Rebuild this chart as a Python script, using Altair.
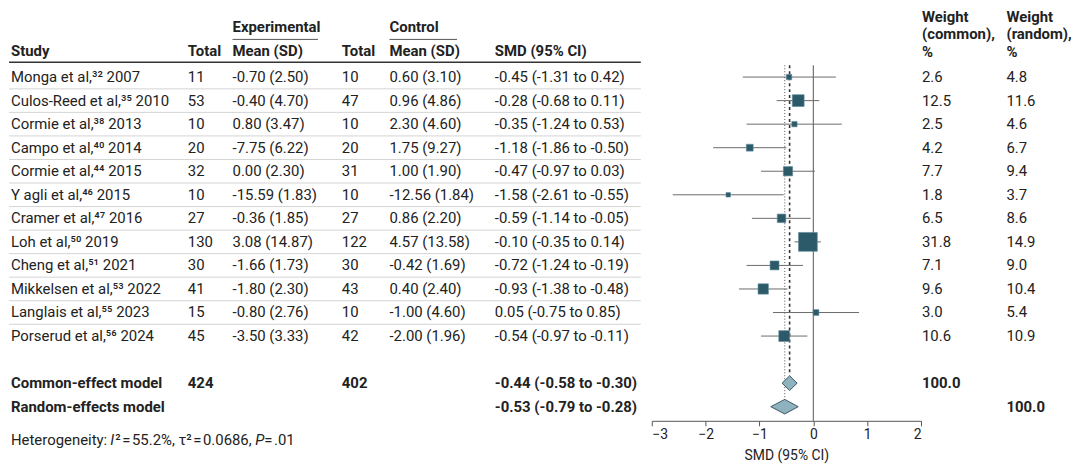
import altair as alt
import pandas as pd

# ---------------- data ----------------
authors = ["Monga et al,", "Culos-Reed et al,", "Cormie et al,", "Campo et al,", "Cormie et al,",
           "Y agli et al,", "Cramer et al,", "Loh et al,", "Cheng et al,", "Mikkelsen et al,",
           "Langlais et al,", "Porserud et al,"]
refs = [32, 35, 38, 40, 44, 46, 47, 50, 51, 53, 55, 56]
years = [2007, 2010, 2013, 2014, 2015, 2015, 2016, 2019, 2021, 2022, 2023, 2024]
exp_n = [11, 53, 10, 20, 32, 10, 27, 130, 30, 41, 15, 45]
exp_mean = [-0.70, -0.40, 0.80, -7.75, 0.00, -15.59, -0.36, 3.08, -1.66, -1.80, -0.80, -3.50]
exp_sd = [2.50, 4.70, 3.47, 6.22, 2.30, 1.83, 1.85, 14.87, 1.73, 2.30, 2.76, 3.33]
ctl_n = [10, 47, 10, 20, 31, 10, 27, 122, 30, 43, 10, 42]
ctl_mean = [0.60, 0.96, 2.30, 1.75, 1.00, -12.56, 0.86, 4.57, -0.42, 0.40, -1.00, -2.00]
ctl_sd = [3.10, 4.86, 4.60, 9.27, 1.90, 1.84, 2.20, 13.58, 1.69, 2.40, 4.60, 1.96]
smd = [-0.45, -0.28, -0.35, -1.18, -0.47, -1.58, -0.59, -0.10, -0.72, -0.93, 0.05, -0.54]
smd_lo = [-1.31, -0.68, -1.24, -1.86, -0.97, -2.61, -1.14, -0.35, -1.24, -1.38, -0.75, -0.97]
smd_hi = [0.42, 0.11, 0.53, -0.50, 0.03, -0.55, -0.05, 0.14, -0.19, -0.48, 0.85, -0.11]
w_common = [2.6, 12.5, 2.5, 4.2, 7.7, 1.8, 6.5, 31.8, 7.1, 9.6, 3.0, 10.6]
w_random = [4.8, 11.6, 4.6, 6.7, 9.4, 3.7, 8.6, 14.9, 9.0, 10.4, 5.4, 10.9]

model_names = ["Common-effect model", "Random-effects model"]
model_est = [-0.44, -0.53]
model_lo = [-0.58, -0.79]
model_hi = [-0.30, -0.28]
model_exp_n = ["424", ""]
model_ctl_n = ["402", ""]
model_w_common = ["100.0", ""]
model_w_random = ["", "100.0"]

het_parts = ["Heterogeneity: ", "I", "²\u200a=\u200a55.2%, τ²\u200a=\u200a0.0686, ", "P", "\u200a=\u200a.01"]

# ---------------- layout ----------------
FONT = "Roboto"
FS = 15
TXT = "#222222"
ROW_PX = 23.7
TOP = -68 / ROW_PX
FOREST_H = 414
TABLE_H = 462
FOREST_W = 271
TABLE_W = 646
RIGHT_W = 147
SEP_W = 636

SUP = str.maketrans("0123456789", "⁰¹²³⁴⁵⁶⁷⁸⁹")


def yscale(h):
    return alt.Scale(domain=[TOP, TOP + h / ROW_PX], reverse=True, nice=False, zero=False)


def fmt(v):
    return f"{v:.2f}"


n = len(authors)
rows = pd.DataFrame({
    "row": list(range(n)),
    "study": [f"{a}{str(r).translate(SUP)} {y}" for a, r, y in zip(authors, refs, years)],
    "en": [str(v) for v in exp_n],
    "em": [f"{fmt(m)} ({fmt(s)})" for m, s in zip(exp_mean, exp_sd)],
    "cn": [str(v) for v in ctl_n],
    "cm": [f"{fmt(m)} ({fmt(s)})" for m, s in zip(ctl_mean, ctl_sd)],
    "smd": [f"{fmt(e)} ({fmt(l)} to {fmt(h)})" for e, l, h in zip(smd, smd_lo, smd_hi)],
    "est": smd, "lo": smd_lo, "hi": smd_hi,
    "wc": [f"{v:.1f}" for v in w_common],
    "wr": [f"{v:.1f}" for v in w_random],
    "w": w_common,
})

models = pd.DataFrame({
    "row": [n + 1, n + 2],
    "study": model_names,
    "en": model_exp_n,
    "cn": model_ctl_n,
    "smd": [f"{fmt(e)} ({fmt(l)} to {fmt(h)})" for e, l, h in zip(model_est, model_lo, model_hi)],
    "wc": model_w_common,
    "wr": model_w_random,
})


def text_layer(df, field, xoff, h, bold=False, italic=False, align="left"):
    return alt.Chart(df).mark_text(
        align=align, baseline="middle", font=FONT, fontSize=FS, color=TXT,
        fontWeight="bold" if bold else "normal", fontStyle="italic" if italic else "normal",
    ).encode(
        x=alt.value(xoff),
        y=alt.Y("row:Q", scale=yscale(h), axis=None),
        text=alt.Text(f"{field}:N"),
    )


# ---------------- table panel ----------------
cols = [("study", 2), ("en", 180), ("em", 225), ("cn", 335), ("cm", 383), ("smd", 489)]
table_layers = []

sep = pd.DataFrame({"row": [i + 0.5 for i in range(n - 1)]})
table_layers.append(
    alt.Chart(sep).mark_rule(color="#d4d4d4", strokeWidth=1).encode(
        x=alt.value(0), x2=alt.value(SEP_W), y=alt.Y("row:Q", scale=yscale(TABLE_H), axis=None))
)
table_layers.append(
    alt.Chart(pd.DataFrame({"row": [-0.63]})).mark_rule(color="#333333", strokeWidth=1.6).encode(
        x=alt.value(0), x2=alt.value(SEP_W), y=alt.Y("row:Q", scale=yscale(TABLE_H), axis=None))
)
for x1, x2 in [(225, 311), (383, 451)]:
    table_layers.append(
        alt.Chart(pd.DataFrame({"row": [-1.6]})).mark_rule(color="#555555", strokeWidth=1).encode(
            x=alt.value(x1), x2=alt.value(x2), y=alt.Y("row:Q", scale=yscale(TABLE_H), axis=None))
    )

hdr = pd.DataFrame({"row": [-1.1], "study": ["Study"], "en": ["Total"], "em": ["Mean (SD)"],
                    "cn": ["Total"], "cm": ["Mean (SD)"], "smd": ["SMD (95% CI)"]})
for f, xo in cols:
    table_layers.append(text_layer(hdr, f, xo, TABLE_H, bold=True))
grp = pd.DataFrame({"row": [-2.11], "em": ["Experimental"], "cm": ["Control"]})
table_layers.append(text_layer(grp, "em", 225, TABLE_H, bold=True))
table_layers.append(text_layer(grp, "cm", 383, TABLE_H, bold=True))

for f, xo in cols:
    table_layers.append(text_layer(rows, f, xo, TABLE_H))
for f, xo in [("study", 2), ("en", 180), ("cn", 335), ("smd", 489)]:
    table_layers.append(text_layer(models, f, xo, TABLE_H, bold=True))

het_row = 15.4
het = pd.DataFrame({"row": [het_row], "a": [het_parts[0]], "b": [het_parts[1]],
                    "c": [het_parts[2]], "d": [het_parts[3]], "e": [het_parts[4]]})
table_layers.append(text_layer(het, "a", 2, TABLE_H))
table_layers.append(text_layer(het, "b", 102, TABLE_H, italic=True))
table_layers.append(text_layer(het, "c", 107, TABLE_H))
table_layers.append(text_layer(het, "d", 248, TABLE_H, italic=True))
table_layers.append(text_layer(het, "e", 257, TABLE_H))

table = alt.layer(*table_layers).properties(width=TABLE_W, height=TABLE_H)

# ---------------- forest panel ----------------
xsc = alt.Scale(domain=[-3, 2], nice=False, zero=False)
xax = alt.Axis(values=[-3, -2, -1, 0, 1, 2], format="d", grid=False, title="SMD (95% CI)",
               domainColor="#555555", tickColor="#555555", tickSize=5, labelPadding=2,
               labelFont=FONT, labelFontSize=14, labelColor=TXT,
               titleFont=FONT, titleFontSize=14, titleFontWeight="normal", titleColor=TXT,
               titlePadding=7)
yF = yscale(FOREST_H)
bottom = TOP + FOREST_H / ROW_PX

ref_lines = pd.DataFrame({"x": [0.0], "y1": [-0.5], "y2": [bottom]})
zero_line = alt.Chart(ref_lines).mark_rule(color="#555555", strokeWidth=1).encode(
    x=alt.X("x:Q", scale=xsc, axis=xax), y=alt.Y("y1:Q", scale=yF, axis=None), y2="y2:Q")

common_line = alt.Chart(pd.DataFrame({"x": [model_est[0]], "y1": [-0.5], "y2": [n + 1 - 0.32]})).mark_rule(
    color="#333333", strokeWidth=1.6, strokeDash=[3, 3]).encode(
    x=alt.X("x:Q", scale=xsc, axis=xax), y=alt.Y("y1:Q", scale=yF, axis=None), y2="y2:Q")

random_line = alt.Chart(pd.DataFrame({"x": [model_est[1]], "y1": [-0.5], "y2": [n + 2 - 0.3]})).mark_rule(
    color="#555555", strokeWidth=1, strokeDash=[1, 2]).encode(
    x=alt.X("x:Q", scale=xsc, axis=xax), y=alt.Y("y1:Q", scale=yF, axis=None), y2="y2:Q")

ci = alt.Chart(rows).mark_rule(color="#6b6b6b", strokeWidth=1).encode(
    x=alt.X("lo:Q", scale=xsc, axis=xax), x2="hi:Q", y=alt.Y("row:Q", scale=yF, axis=None))

squares = alt.Chart(rows).mark_square(color="#2c5a69", opacity=1, stroke="#5f8c9a", strokeWidth=0.6).encode(
    x=alt.X("est:Q", scale=xsc, axis=xax), y=alt.Y("row:Q", scale=yF, axis=None),
    size=alt.Size("w:Q", scale=alt.Scale(domain=[0, 31.8], range=[0, 360], zero=True), legend=None))

HALF = 0.31
dpts = []
for i, (nm, e, l, h) in enumerate(zip(model_names, model_est, model_lo, model_hi)):
    c = n + 1 + i
    dpts += [
        {"model": nm, "x": l, "ya": c, "yb": c},
        {"model": nm, "x": e, "ya": c - HALF, "yb": c + HALF},
        {"model": nm, "x": h, "ya": c, "yb": c},
    ]
diam = alt.Chart(pd.DataFrame(dpts)).mark_area(
    orient="vertical", fill="#8fb2bf", fillOpacity=1, stroke="#3d5a66", strokeWidth=1).encode(
    x=alt.X("x:Q", scale=xsc, axis=xax), y=alt.Y("ya:Q", scale=yF, axis=None), y2="yb:Q",
    detail="model:N")

forest = alt.layer(zero_line, random_line, common_line, ci, squares, diam).properties(
    width=FOREST_W, height=FOREST_H)

# ---------------- weights panel ----------------
RX1, RX2 = -1, 84
wl = []
whdr = pd.DataFrame({"row": [-2.54, -1.81, -1.08], "wc": ["Weight", "(common),", "%"],
                     "wr": ["Weight", "(random),", "%"]})
wl.append(text_layer(whdr, "wc", RX1, FOREST_H, bold=True))
wl.append(text_layer(whdr, "wr", RX2, FOREST_H, bold=True))
wl.append(text_layer(rows, "wc", RX1, FOREST_H))
wl.append(text_layer(rows, "wr", RX2, FOREST_H))
wl.append(text_layer(models, "wc", RX1, FOREST_H, bold=True))
wl.append(text_layer(models, "wr", RX2, FOREST_H, bold=True))
right = alt.layer(*wl).properties(width=RIGHT_W, height=FOREST_H)

chart = alt.hconcat(table, forest, right, spacing=0).properties(
    padding={"left": 0, "top": 0, "right": 0, "bottom": 0}, background="white"
).configure_view(stroke=None)

chart.save("out.html", embed_options={"renderer": "svg", "actions": False})
